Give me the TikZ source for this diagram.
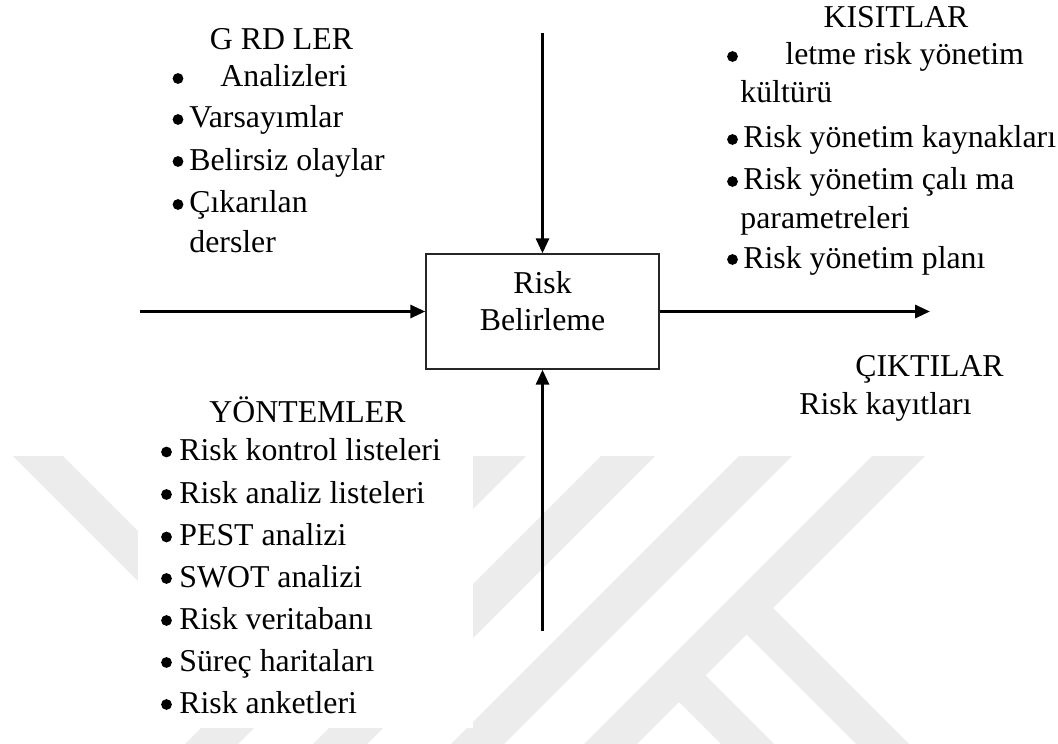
\documentclass[tikz,border=0pt]{standalone}
\usepackage{fontspec}
\setmainfont{Liberation Serif}
\usetikzlibrary{arrows.meta}
\definecolor{wmgray}{RGB}{236,236,236}
\begin{document}
\begin{tikzpicture}[x=0.5pt,y=-0.5pt,
  txt/.style={font=\fontsize{15.9pt}{19pt}\selectfont, inner sep=0pt, anchor=base west},
  ttl/.style={font=\fontsize{15.9pt}{19pt}\selectfont, inner sep=0pt, anchor=base},
  dot/.style={circle, fill=black, inner sep=0pt, minimum size=5.4pt},
  flow/.style={line width=1.5pt, -{Triangle[length=7.5pt,width=6.5pt]}},
  procbox/.style={draw=black!85, line width=0.7pt, minimum width=116.5pt,
                  minimum height=57.5pt, inner sep=0pt}
]
\useasboundingbox (0,0) rectangle (1058,743);
\fill[white] (0,0) rectangle (1058,743);

% faint emblem in the lower half of the page
\begin{scope}
  \clip (0,456) rectangle (1058,743);
  \fill[wmgray] (13,456) -- ++(50,0) -- ++(250,250) -- ++(-50,0) -- cycle;
  \fill[wmgray] (473,456) -- ++(53,0) -- ++(-300,300) -- ++(-53,0) -- cycle;
  \fill[wmgray] (601,456) -- ++(54,0) -- ++(-300,300) -- ++(-54,0) -- cycle;
  \fill[wmgray] (739,456) -- ++(53,0) -- ++(-300,300) -- ++(-53,0) -- cycle;
  \fill[wmgray] (872,456) -- ++(53,0) -- ++(-300,300) -- ++(-53,0) -- cycle;
  % arms branching off the last stripe
  \fill[wmgray] (753,588) -- ++(200,200) -- ++(-26.5,26.5) -- ++(-200,-200) -- cycle;
  \fill[wmgray] (686,656) -- ++(200,200) -- ++(-26.5,26.5) -- ++(-200,-200) -- cycle;
\end{scope}
% plain panel behind the methods list
\fill[white] (138,440) rectangle (473,728);

% process box
\node[procbox] (rb) at (542.5,311.5) {};
\node[ttl] (rb1) at (542.5,293) {Risk};
\node[ttl] (rb2) at (542.5,330) {Belirleme};

% connectors
\coordinate (inS) at (140,311.5);
\coordinate (outE) at (930,311.5);
\coordinate (ctlN) at (542.5,33);
\coordinate (mechS) at (542.5,631);
\draw[flow] (inS) -- (rb.west);
\draw[flow] (rb.east) -- (outE);
\draw[flow] (ctlN) -- (rb.north);
\draw[flow] (mechS) -- (rb.south);

% inputs
\node[ttl] (gT) at (281.5,50) {G RD LER};
\node[dot] (g1b) at (178,78.5) {};  \node[txt] (g1) at (220,87) {Analizleri};
\node[dot] (g2b) at (178,119.5) {}; \node[txt] (g2) at (189,128) {Varsayımlar};
\node[dot] (g3b) at (178,161.5) {}; \node[txt] (g3) at (189,170) {Belirsiz olaylar};
\node[dot] (g4b) at (178,204.5) {}; \node[txt] (g4) at (189,213) {Çıkarılan};
\node[txt] (g4c) at (189,252) {dersler};

% constraints
\node[ttl] (kT) at (896,28) {KISITLAR};
\node[dot] (k1b) at (732.5,56.5) {};  \node[txt] (k1) at (785,65) {letme risk yönetim};
\node[txt] (k1c) at (740,103) {kültürü};
\node[dot] (k2b) at (732.5,139.5) {}; \node[txt] (k2) at (743,148) {Risk yönetim kaynakları};
\node[dot] (k3b) at (732.5,181.5) {}; \node[txt] (k3) at (743,190) {Risk yönetim çalı ma};
\node[txt] (k3c) at (740,228) {parametreleri};
\node[dot] (k4b) at (732.5,259.5) {}; \node[txt] (k4) at (743,268) {Risk yönetim planı};

% outputs
\node[ttl] (cT) at (929.5,376) {ÇIKTILAR};
\node[txt] (c1) at (799,414) {Risk kayıtları};

% methods
\node[ttl] (yT) at (307.5,422) {YÖNTEMLER};
\node[dot] (y1b) at (166.5,452) {};   \node[txt] (y1) at (179,460.5) {Risk kontrol listeleri};
\node[dot] (y2b) at (166.5,494.5) {}; \node[txt] (y2) at (179,503) {Risk analiz listeleri};
\node[dot] (y3b) at (166.5,537) {};   \node[txt] (y3) at (179,545.5) {PEST analizi};
\node[dot] (y4b) at (166.5,578.5) {}; \node[txt] (y4) at (179,587) {SWOT analizi};
\node[dot] (y5b) at (166.5,620.5) {}; \node[txt] (y5) at (179,629) {Risk veritabanı};
\node[dot] (y6b) at (166.5,662.5) {}; \node[txt] (y6) at (179,671) {Süreç haritaları};
\node[dot] (y7b) at (166.5,704.5) {}; \node[txt] (y7) at (179,713) {Risk anketleri};
\end{tikzpicture}
\end{document}
